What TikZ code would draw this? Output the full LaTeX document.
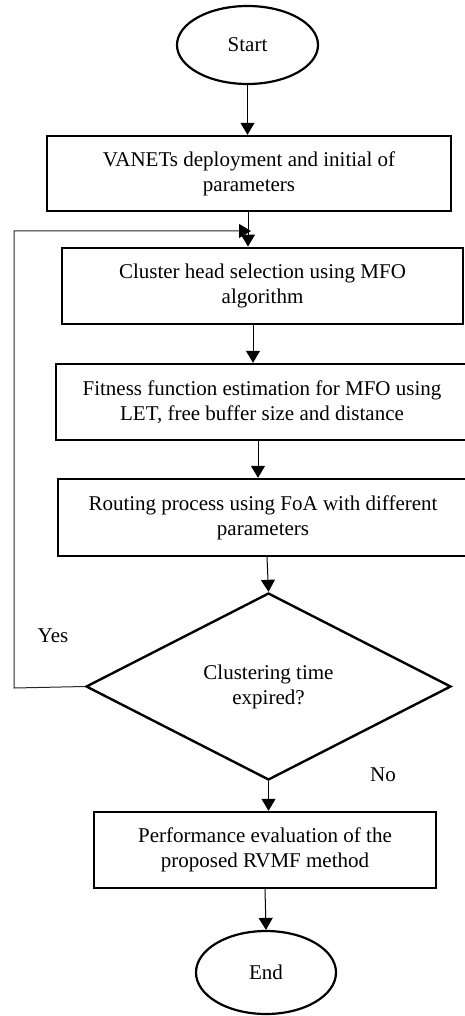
\documentclass[tikz,border=0pt]{standalone}
\usepackage{fontspec}
\setmainfont{Liberation Serif}
\usetikzlibrary{shapes.geometric,arrows.meta}

\begin{document}
\begin{tikzpicture}[x=1pt, y=-1pt,
		every node/.style={font=\fontsize{21}{25}\selectfont},
		stepbox/.style={draw, line width=2.4pt, rectangle, align=center, inner sep=0pt},
		termnode/.style={draw, line width=2.2pt, ellipse, inner sep=0pt},
		decide/.style={draw, line width=2.4pt, diamond, aspect=1.95, align=center, inner sep=0pt},
		arr/.style={line width=1pt, -{Triangle[width=14pt, length=12pt]}},
		looparr/.style={line width=1pt, draw=black!85, -{Triangle[width=14pt, length=12pt, color=black]}}]
	\clip (0, 0) rectangle (465, 1016);

	\node[termnode, minimum width=141pt, minimum height=78pt] at (247.5, 45) (start) {Start};
	\node[stepbox, minimum width=404pt, minimum height=75pt] at (249, 173.5) (deploy) {VANETs deployment and initial of\\parameters};
	\node[stepbox, minimum width=401pt, minimum height=76.5pt] at (262.5, 286) (chsel) {Cluster head selection using MFO\\algorithm};
	\node[stepbox, minimum width=412pt, minimum height=76pt] at (262, 402) (fitness) {Fitness function estimation for MFO using\\LET, free buffer size and distance};
	\node[stepbox, minimum width=410pt, minimum height=77pt] at (263, 517.5) (routing) {Routing process using FoA with different\\parameters};
	\node[decide, minimum width=365pt, minimum height=187pt] at (268.5, 686.5) (expired) {Clustering time\\expired?};
	\node[stepbox, minimum width=342pt, minimum height=76pt] at (265, 850) (perf) {Performance evaluation of the\\proposed RVMF method};
	\node[termnode, minimum width=140pt, minimum height=83pt] at (266, 972.5) (end) {End};

	\node at (53, 636) (yes) {Yes};
	\node at (383, 775) (no) {No};

	% loop back to the cluster head selection
	\coordinate (loopB) at (14, 688);
	\coordinate (loopT) at (14, 231);
	\coordinate (loopE) at (251, 231);

	\draw[arr] (start.south) -- (start.south |- deploy.north);
	\draw[arr] ([xshift=-1pt]deploy.south) -- ([xshift=-1pt]deploy.south |- chsel.north);
	\draw[arr] ([xshift=-9.5pt]chsel.south) -- ([xshift=-9.5pt]chsel.south |- fitness.north);
	\draw[arr] ([xshift=-4pt]fitness.south) -- ([xshift=-4pt]fitness.south |- routing.north);
	\draw[arr] ([xshift=4pt]routing.south) -- (expired.north);
	\draw[arr] (expired.south) -- (expired.south |- perf.north);
	\draw[arr] (perf.south) -- (end.north);
	\draw[looparr] (expired.west) -- (loopB) -- (loopT) -- (loopE);
\end{tikzpicture}
\end{document}
